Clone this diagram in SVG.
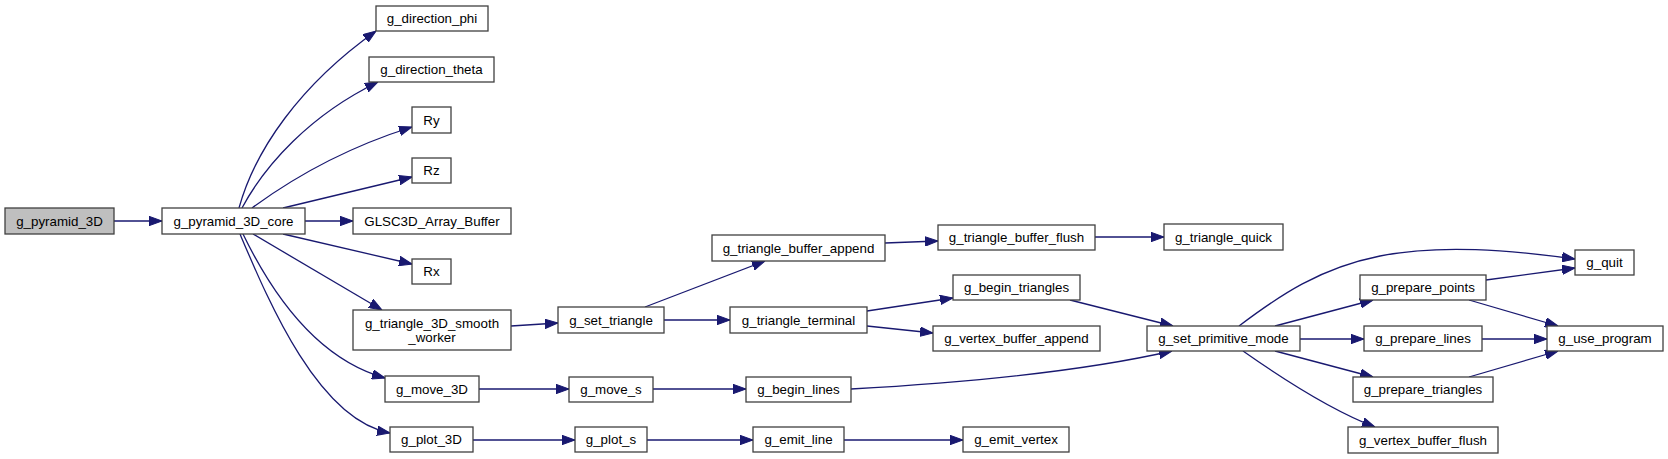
<svg xmlns="http://www.w3.org/2000/svg" width="1668" height="459" viewBox="0 0 1668 459">
<defs>
<style>
.n rect{fill:#ffffff;stroke:#404040;stroke-width:1.3}
.root rect{fill:#bfbfbf}
.n text{font-family:"Liberation Sans",Arial,Helvetica,sans-serif;font-size:13.33px;fill:#000000;text-anchor:middle}
.e path{fill:none;stroke:#191970;stroke-width:1.3;marker-end:url(#ah)}
</style>
<marker id="ah" viewBox="0 0 13 10" refX="13" refY="5" markerWidth="13" markerHeight="10" markerUnits="userSpaceOnUse" orient="auto">
<path d="M0,0.3 L13,5 L0,9.7 Z" fill="#191970" stroke="#191970" stroke-width="1"/>
</marker>
</defs>
<rect width="1668" height="459" fill="#ffffff"/>
<g id="edges" class="e">
<path d="M114,221 L162,221"/>
<path d="M239,208 C255,150 300,85 376,31"/>
<path d="M242,208 C265,165 310,115 378,82"/>
<path d="M252,208 C290,180 345,148 412,127"/>
<path d="M283,208 L412,177"/>
<path d="M305,221 L353,221"/>
<path d="M283,234 L412,264"/>
<path d="M253,234 L382,310"/>
<path d="M243,234 C275,300 320,360 385,378"/>
<path d="M240,234 C268,300 318,420 390,433"/>
<path d="M511,326 L558,323"/>
<path d="M645,307 L765,261"/>
<path d="M664,320 L730,320"/>
<path d="M885,243 L938,241"/>
<path d="M1095,237 L1164,237"/>
<path d="M867,311 L953,298"/>
<path d="M867,326 L933,333"/>
<path d="M1070,300 L1173,326"/>
<path d="M851,389 C960,383 1080,372 1172,351"/>
<path d="M479,389 L569,389"/>
<path d="M653,389 L746,389"/>
<path d="M473,440 L575,440"/>
<path d="M647,440 L753,440"/>
<path d="M844,440 L963,440"/>
<path d="M1239,326 C1280,295 1320,268 1380,256 C1440,244 1510,250 1575,259"/>
<path d="M1275,326 L1373,300"/>
<path d="M1300,339 L1364,339"/>
<path d="M1275,351 L1373,377"/>
<path d="M1243,351 C1280,377 1330,410 1375,427"/>
<path d="M1486,280 L1575,268"/>
<path d="M1469,300 L1558,326"/>
<path d="M1482,339 L1547,339"/>
<path d="M1469,377 L1558,351"/>
</g>
<g id="g_pyramid_3D" class="n root"><rect x="5" y="208" width="109" height="26"/><text x="59.5" y="225.7">g_pyramid_3D</text></g>
<g id="g_pyramid_3D_core" class="n"><rect x="162" y="208" width="143" height="26"/><text x="233.5" y="225.7">g_pyramid_3D_core</text></g>
<g id="g_direction_phi" class="n"><rect x="376" y="6" width="112" height="25"/><text x="432" y="23.2">g_direction_phi</text></g>
<g id="g_direction_theta" class="n"><rect x="369" y="57" width="125" height="25"/><text x="431.5" y="74.2">g_direction_theta</text></g>
<g id="Ry" class="n"><rect x="412" y="107" width="39" height="26"/><text x="431.5" y="124.7">Ry</text></g>
<g id="Rz" class="n"><rect x="412" y="158" width="39" height="25"/><text x="431.5" y="175.2">Rz</text></g>
<g id="GLSC3D_Array_Buffer" class="n"><rect x="353" y="208" width="158" height="26"/><text x="432" y="225.7">GLSC3D_Array_Buffer</text></g>
<g id="Rx" class="n"><rect x="412" y="259" width="39" height="25"/><text x="431.5" y="276.2">Rx</text></g>
<g id="g_triangle_3D_smooth_worker" class="n"><rect x="353" y="310" width="158" height="40"/><text x="432" y="328">g_triangle_3D_smooth</text><text x="432" y="341.5">_worker</text></g>
<g id="g_move_3D" class="n"><rect x="385" y="376" width="94" height="26"/><text x="432" y="393.7">g_move_3D</text></g>
<g id="g_plot_3D" class="n"><rect x="390" y="427" width="83" height="25"/><text x="431.5" y="444.2">g_plot_3D</text></g>
<g id="g_set_triangle" class="n"><rect x="558" y="307" width="106" height="26"/><text x="611" y="324.7">g_set_triangle</text></g>
<g id="g_triangle_buffer_append" class="n"><rect x="712" y="235" width="173" height="26"/><text x="798.5" y="252.7">g_triangle_buffer_append</text></g>
<g id="g_triangle_terminal" class="n"><rect x="730" y="307" width="137" height="26"/><text x="798.5" y="324.7">g_triangle_terminal</text></g>
<g id="g_move_s" class="n"><rect x="569" y="377" width="84" height="25"/><text x="611" y="394.2">g_move_s</text></g>
<g id="g_begin_lines" class="n"><rect x="746" y="377" width="105" height="25"/><text x="798.5" y="394.2">g_begin_lines</text></g>
<g id="g_plot_s" class="n"><rect x="575" y="427" width="72" height="25"/><text x="611" y="444.2">g_plot_s</text></g>
<g id="g_emit_line" class="n"><rect x="753" y="427" width="91" height="25"/><text x="798.5" y="444.2">g_emit_line</text></g>
<g id="g_triangle_buffer_flush" class="n"><rect x="938" y="225" width="157" height="25"/><text x="1016.5" y="242.2">g_triangle_buffer_flush</text></g>
<g id="g_begin_triangles" class="n"><rect x="953" y="275" width="127" height="25"/><text x="1016.5" y="292.2">g_begin_triangles</text></g>
<g id="g_vertex_buffer_append" class="n"><rect x="933" y="326" width="167" height="25"/><text x="1016.5" y="343.2">g_vertex_buffer_append</text></g>
<g id="g_emit_vertex" class="n"><rect x="963" y="427" width="106" height="25"/><text x="1016" y="444.2">g_emit_vertex</text></g>
<g id="g_triangle_quick" class="n"><rect x="1164" y="224" width="119" height="26"/><text x="1223.5" y="241.7">g_triangle_quick</text></g>
<g id="g_set_primitive_mode" class="n"><rect x="1147" y="326" width="153" height="25"/><text x="1223.5" y="343.2">g_set_primitive_mode</text></g>
<g id="g_quit" class="n"><rect x="1575" y="250" width="59" height="25"/><text x="1604.5" y="267.2">g_quit</text></g>
<g id="g_prepare_points" class="n"><rect x="1360" y="275" width="126" height="25"/><text x="1423" y="292.2">g_prepare_points</text></g>
<g id="g_prepare_lines" class="n"><rect x="1364" y="326" width="118" height="25"/><text x="1423" y="343.2">g_prepare_lines</text></g>
<g id="g_prepare_triangles" class="n"><rect x="1353" y="377" width="140" height="25"/><text x="1423" y="394.2">g_prepare_triangles</text></g>
<g id="g_vertex_buffer_flush" class="n"><rect x="1348" y="427" width="150" height="26"/><text x="1423" y="444.7">g_vertex_buffer_flush</text></g>
<g id="g_use_program" class="n"><rect x="1547" y="326" width="116" height="25"/><text x="1605" y="343.2">g_use_program</text></g>
</svg>
